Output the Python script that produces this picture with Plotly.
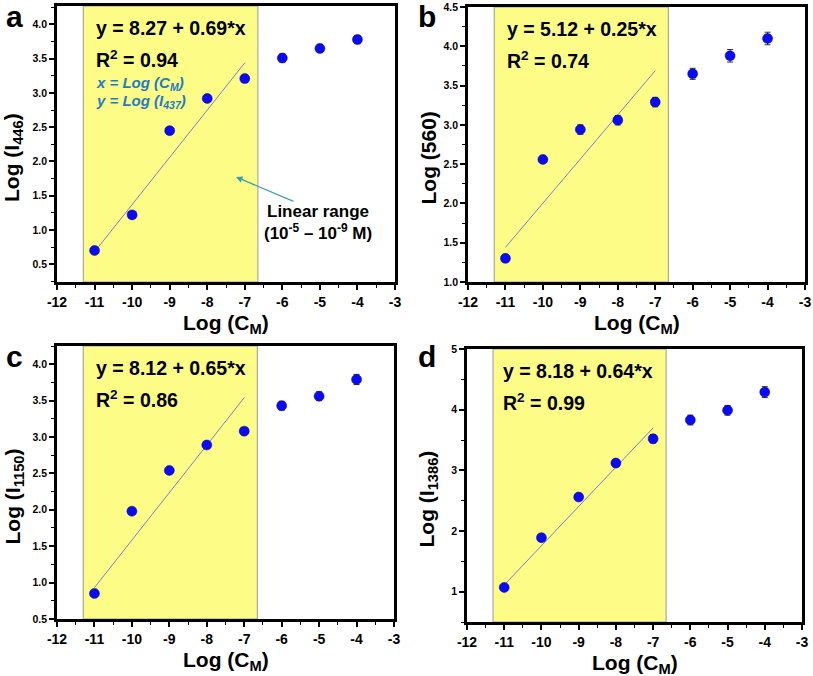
import plotly.graph_objects as go

W, H = 813, 676

# ---------------- data ----------------
log_c = [-11, -10, -9, -8, -7, -6, -5, -4]

a_vals = [0.70, 1.22, 2.45, 2.92, 3.21, 3.51, 3.65, 3.78]
a_err = [0.03, 0.03, 0.04, 0.05, 0.05, 0.06, 0.06, 0.06]
b_vals = [1.30, 2.56, 2.94, 3.06, 3.29, 3.65, 3.88, 4.10]
b_err = [0.03, 0.04, 0.06, 0.06, 0.06, 0.07, 0.08, 0.08]
c_vals = [0.85, 1.98, 2.54, 2.89, 3.08, 3.43, 3.56, 3.79]
c_err = [0.03, 0.03, 0.04, 0.05, 0.05, 0.06, 0.06, 0.07]
d_vals = [1.07, 1.89, 2.56, 3.12, 3.52, 3.83, 3.99, 4.29]
d_err = [0.04, 0.04, 0.05, 0.06, 0.07, 0.08, 0.08, 0.09]

fit_x = [-11.0, -7.0]
a_fit = [0.68, 3.44]
b_fit = [1.44, 3.69]
c_fit = [0.93, 3.54]
d_fit = [1.11, 3.70]

linear_range = [-11.3, -6.65]

eq_text = ["y = 8.27 + 0.69*x", "y = 5.12 + 0.25*x", "y = 8.12 + 0.65*x", "y = 8.18 + 0.64*x"]
r2_text = ["R<sup>2</sup> = 0.94", "R<sup>2</sup> = 0.74", "R<sup>2</sup> = 0.86", "R<sup>2</sup> = 0.99"]
y_titles = ["Log (I<sub>446</sub>)", "Log (560)", "Log (I<sub>1150</sub>)", "Log (I<sub>1386</sub>)"]
letters = ["a", "b", "c", "d"]
x_title = "Log (C<sub>M</sub>)"
x_ticks = [-12, -11, -10, -9, -8, -7, -6, -5, -4, -3]
a_yticks = [0.5, 1.0, 1.5, 2.0, 2.5, 3.0, 3.5, 4.0]
b_yticks = [1.0, 1.5, 2.0, 2.5, 3.0, 3.5, 4.0, 4.5]
c_yticks = [0.5, 1.0, 1.5, 2.0, 2.5, 3.0, 3.5, 4.0]
d_yticks = [1, 2, 3, 4, 5]

# ---------------- layout geometry (pixels) ----------------
panels = [
    dict(vals=a_vals, err=a_err, fit=a_fit, yt=a_yticks, px=(57, 395), py=(6, 282), yr=[0.24, 4.27], mdt=0.25, fmt="%.1f"),
    dict(vals=b_vals, err=b_err, fit=b_fit, yt=b_yticks, px=(468, 805), py=(7, 282), yr=[0.999, 4.501], mdt=0.25, fmt="%.1f"),
    dict(vals=c_vals, err=c_err, fit=c_fit, yt=c_yticks, px=(57, 394), py=(346, 619), yr=[0.499, 4.25], mdt=0.25, fmt="%.1f"),
    dict(vals=d_vals, err=d_err, fit=d_fit, yt=d_yticks, px=(467, 802), py=(349, 622), yr=[0.5, 5.001], mdt=0.5, fmt="%d"),
]

def px2x(p):
    return p / W

def px2y(p):
    return 1 - p / H

FONT = "Arial, Liberation Sans, Helvetica, sans-serif"

fig = go.Figure()
layout = dict(
    width=W, height=H, margin=dict(l=0, r=0, t=0, b=0, autoexpand=False),
    paper_bgcolor="white", plot_bgcolor="white", showlegend=False,
    font=dict(family=FONT, color="black"),
)
shapes = []
annotations = []

for i, p in enumerate(panels):
    n = "" if i == 0 else str(i + 1)
    xa, ya = "x" + n, "y" + n
    fig.add_trace(go.Scatter(
        x=fit_x, y=p["fit"], mode="lines", xaxis=xa, yaxis=ya,
        line=dict(color="#7c7cd6", width=1), hoverinfo="skip"))
    fig.add_trace(go.Scatter(
        x=log_c, y=p["vals"], mode="markers", xaxis=xa, yaxis=ya,
        marker=dict(color="#0a0af5", size=10, line=dict(color="#0000a0", width=0.5)),
        error_y=dict(type="data", array=p["err"], color="#333333", thickness=1, width=3)))

    axis_common = dict(
        showgrid=False, zeroline=False, showline=True, linecolor="black", linewidth=2.5,
        mirror=True, ticks="outside", ticklen=5, tickwidth=1.5, tickcolor="black", automargin=False,
    )
    layout["xaxis" + n] = dict(
        axis_common, anchor=ya, domain=[px2x(p["px"][0]), px2x(p["px"][1])],
        range=[-12, -3], tickmode="array", tickvals=x_ticks,
        ticktext=["<b>%d</b>" % v for v in x_ticks],
        tickfont=dict(family=FONT, size=14, color="black"),
        minor=dict(dtick=0.5, tick0=0, ticks="outside", ticklen=3, tickwidth=1.2, tickcolor="black"),
    )
    layout["yaxis" + n] = dict(
        axis_common, anchor=xa, domain=[px2y(p["py"][1]), px2y(p["py"][0])],
        range=p["yr"], tickmode="array", tickvals=p["yt"],
        ticktext=["<b>" + (p["fmt"] % v) + "</b>" for v in p["yt"]],
        tickfont=dict(family=FONT, size=10.5, color="black"),
        minor=dict(dtick=p["mdt"], tick0=0, ticks="outside", ticklen=3, tickwidth=1.2, tickcolor="black"),
    )
    # yellow linear-range band
    shapes.append(dict(
        type="rect", xref=xa, yref=ya + " domain", x0=linear_range[0], x1=linear_range[1],
        y0=0, y1=1, fillcolor="#fdfc86", line=dict(color="#9a9a9a", width=1), layer="below"))

    # equation text
    x0 = p["px"][0]
    eq_left = x0 + (37 if i != 3 else 34)
    eq_y = p["py"][0] + 22
    annotations.append(dict(
        xref="paper", yref="paper", x=px2x(eq_left), y=px2y(eq_y), xanchor="left", yanchor="middle",
        text=eq_text[i], showarrow=False, font=dict(family=FONT, size=19.5, color="black", weight="bold")))
    annotations.append(dict(
        xref="paper", yref="paper", x=px2x(eq_left), y=px2y(eq_y + 31), xanchor="left", yanchor="middle",
        text=r2_text[i], showarrow=False, font=dict(family=FONT, size=19.5, color="black", weight="bold")))

    # axis titles
    xc = (p["px"][0] + p["px"][1]) / 2
    annotations.append(dict(
        xref="paper", yref="paper", x=px2x(xc), y=px2y(p["py"][1] + 42), xanchor="center", yanchor="middle",
        text=x_title, showarrow=False, font=dict(family=FONT, size=21, color="black", weight="bold")))
    yc = (p["py"][0] + p["py"][1]) / 2 + 14
    annotations.append(dict(
        xref="paper", yref="paper", x=px2x(p["px"][0] - 44 if i % 2 == 0 else p["px"][0] - 40), y=px2y(yc),
        xanchor="center", yanchor="middle", textangle=-90,
        text=y_titles[i], showarrow=False, font=dict(family=FONT, size=21, color="black", weight="bold")))

    # panel letter
    lx = 14 if i % 2 == 0 else 427
    ly = 16 if i < 2 else 356
    annotations.append(dict(
        xref="paper", yref="paper", x=px2x(lx), y=px2y(ly), xanchor="center", yanchor="middle",
        text=letters[i], showarrow=False, font=dict(family=FONT, size=30, color="black", weight="bold")))

# extra notes in panel a
annotations.append(dict(
    xref="paper", yref="paper", x=px2x(94), y=px2y(83), xanchor="left", yanchor="middle",
    text="<i>x = Log (C<sub>M</sub>)</i>", showarrow=False,
    font=dict(family=FONT, size=15, color="#1f7cc4", weight="bold")))
annotations.append(dict(
    xref="paper", yref="paper", x=px2x(94), y=px2y(101), xanchor="left", yanchor="middle",
    text="<i>y = Log (I<sub>437</sub>)</i>", showarrow=False,
    font=dict(family=FONT, size=15, color="#1f7cc4", weight="bold")))
annotations.append(dict(
    xref="paper", yref="paper", x=px2x(318), y=px2y(222), xanchor="center", yanchor="middle",
    text="Linear range<br>(10<sup>-5</sup> – 10<sup>-9</sup> M)", showarrow=False, align="center",
    font=dict(family=FONT, size=17, color="black", weight="bold")))
annotations.append(dict(
    xref="paper", yref="paper", x=px2x(236), y=px2y(177), ax=59, ay=25,
    axref="pixel", ayref="pixel", text="", showarrow=True, arrowhead=2, arrowsize=1,
    arrowwidth=1.3, arrowcolor="#3f9db3"))

layout["shapes"] = shapes
layout["annotations"] = annotations
fig.update_layout(**layout)
fig.write_html("out.html", post_script="document.body.style.margin='0';",
               config={"displayModeBar": False})
